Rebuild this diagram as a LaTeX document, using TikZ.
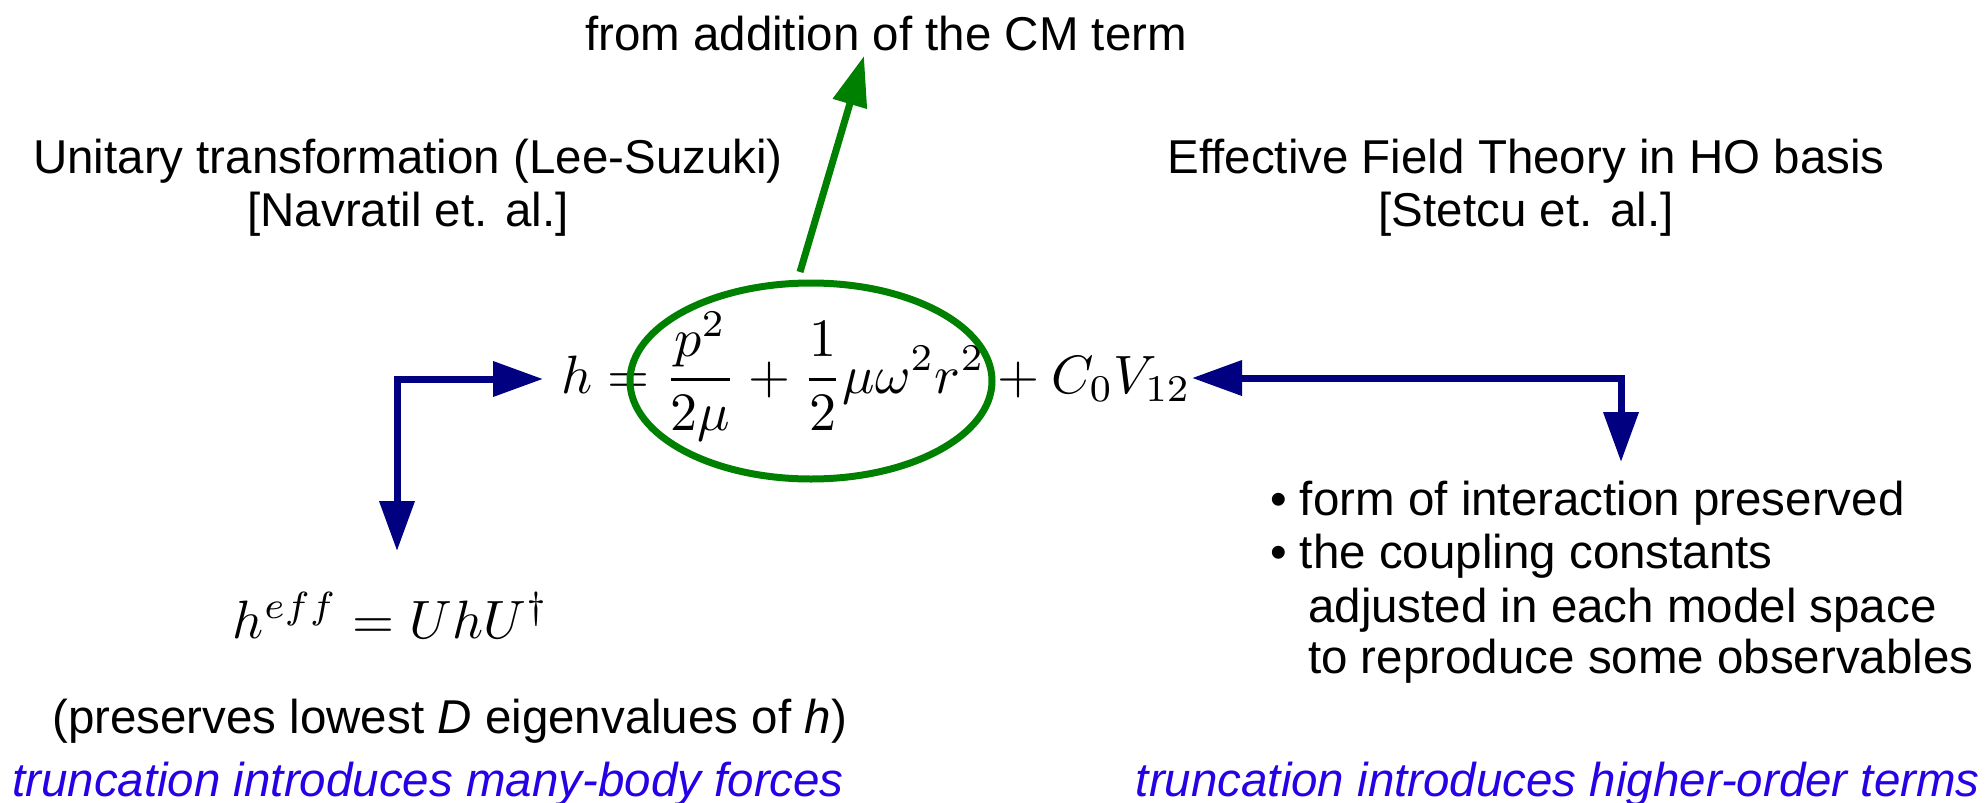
\documentclass[tikz,border=0pt]{standalone}
\usepackage[no-math]{fontspec}
\setmainfont{Liberation Sans}
\usetikzlibrary{arrows.meta,shapes.geometric}
\definecolor{navyb}{RGB}{0,0,128}
\definecolor{cmgreen}{RGB}{0,128,0}
\definecolor{vblue}{RGB}{40,0,230}
\begin{document}
\begin{tikzpicture}[x=1pt,y=-1pt,
  txt/.style={inner sep=0pt, font=\fontsize{47.5}{52}\selectfont},
  itxt/.style={inner sep=0pt, text=vblue, font=\fontsize{47.5}{52}\selectfont\itshape},
  mth/.style={inner sep=0pt, scale=5.4, transform shape},
  bluearr/.style={draw=navyb, line width=7pt,
    {Triangle[length=50pt,width=34pt]}-{Triangle[length=50pt,width=34pt]}},
  greenarr/.style={draw=cmgreen, line width=7pt, -{Triangle[length=50pt,width=34pt]}}]
\useasboundingbox (0,0) rectangle (1987,803);
\fill[white] (0,0) rectangle (1987,803);

\node[txt, anchor=base] (cmtext) at (886,50) {from addition of the CM term};
\node[txt, anchor=base] (ut1) at (408,173) {Unitary transformation (Lee-Suzuki)};
\node[txt, anchor=base] (ut2) at (408,226) {[Navratil et. al.]};
\node[txt, anchor=base] (eft1) at (1526,173) {Effective Field Theory in HO basis};
\node[txt, anchor=base] (eft2) at (1526,226) {[Stetcu et. al.]};

\node[mth, anchor=base west] (eq) at (560,393)
  {$\displaystyle h=\frac{p^2}{2\mu}+\frac{1}{2}\mu\omega^2r^2+C_0V_{12}$};
\node[draw=cmgreen, line width=7pt, ellipse, minimum width=362pt,
  minimum height=196pt, inner sep=0pt] (cm) at (811,381) {};

\node[mth, anchor=base east] (heff) at (550,638) {$h^{eff}=UhU^\dagger$};

\node[txt, anchor=base west] (pres) at (52,733)
  {(preserves lowest \textit{D} eigenvalues of \textit{h})};
\node[itxt, anchor=base west] (trl) at (12,796) {truncation introduces many-body forces};
\node[itxt, anchor=base east] (trr) at (1980,796) {truncation introduces higher-order terms};

\node[txt, anchor=base west] (b1) at (1270,515) {• form of interaction preserved};
\node[txt, anchor=base west] (b2) at (1270,568) {• the coupling constants};
\node[txt, anchor=base west] (b3) at (1308,622) {adjusted in each model space};
\node[txt, anchor=base west] (b4) at (1308,673) {to reproduce some observables};

\coordinate (gs) at (800,272);
\coordinate (gt) at (864,56);
\draw[greenarr] (gs) -- (gt);

\coordinate (la) at (397,551);
\coordinate (lb) at (543,379);
\draw[bluearr] (la) |- (lb);

\coordinate (ra) at (1192,378);
\coordinate (rb) at (1621,462);
\draw[bluearr] (ra) -| (rb);
\end{tikzpicture}
\end{document}
